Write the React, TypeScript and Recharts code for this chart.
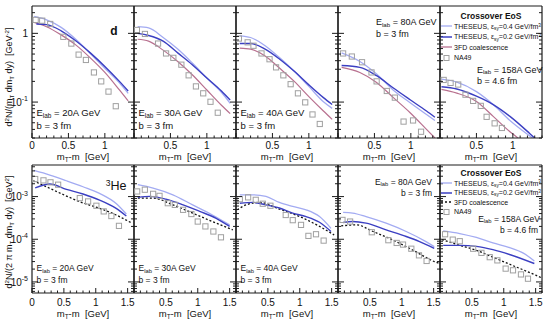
import React from 'react';
import { ComposedChart, Line, Scatter, XAxis, YAxis } from 'recharts';

type Pt = [number, number];

const ENERGIES = ['20A', '30A', '40A', '80A', '158A'];
const IMPACT = ['3', '3', '3', '3', '4.6'];

// deuterons (top row): [mT-m, d2N/(mT dmT dy)]
const d20Th04: Pt[] = [[0.03, 1.76], [0.2, 1.57], [0.4, 1.22], [0.6, 0.82], [0.8, 0.51], [1.0, 0.31], [1.2, 0.19], [1.32, 0.134]];
const d20Th02: Pt[] = [[0.06, 1.37], [0.2, 1.34], [0.4, 1.09], [0.6, 0.78], [0.8, 0.52], [1.0, 0.33], [1.2, 0.2], [1.32, 0.145]];
const d20Fd: Pt[] = [[0.03, 1.44], [0.2, 1.25], [0.4, 0.95], [0.6, 0.68], [0.8, 0.44], [1.0, 0.27], [1.2, 0.15], [1.32, 0.104]];
const d20Na49: Pt[] = [[0.05, 1.57], [0.14, 1.53], [0.25, 1.37], [0.43, 0.89], [0.54, 0.71], [0.64, 0.49], [0.74, 0.41], [0.85, 0.27], [0.95, 0.2], [1.05, 0.142], [1.15, 0.087]];

const d30Th04: Pt[] = [[0.05, 1.25], [0.2, 1.2], [0.4, 0.87], [0.6, 0.59], [0.8, 0.37], [1.0, 0.224], [1.2, 0.139], [1.32, 0.096]];
const d30Th02: Pt[] = [[0.05, 1.0], [0.2, 0.93], [0.4, 0.77], [0.6, 0.52], [0.8, 0.35], [1.0, 0.224], [1.2, 0.145], [1.32, 0.107]];
const d30Fd: Pt[] = [[0.05, 0.82], [0.2, 0.77], [0.4, 0.57], [0.6, 0.39], [0.8, 0.25], [1.0, 0.15], [1.2, 0.09], [1.32, 0.068]];
const d30Na49: Pt[] = [[0.04, 1.12], [0.15, 0.98], [0.33, 0.71], [0.44, 0.51], [0.54, 0.44], [0.65, 0.35], [0.75, 0.245], [0.85, 0.169], [0.95, 0.134], [1.05, 0.101], [1.15, 0.07]];

const d40Th04: Pt[] = [[0.05, 0.92], [0.2, 0.87], [0.4, 0.66], [0.6, 0.44], [0.8, 0.28], [1.0, 0.169], [1.2, 0.101], [1.32, 0.081]];
const d40Th02: Pt[] = [[0.05, 0.71], [0.2, 0.71], [0.4, 0.59], [0.6, 0.42], [0.8, 0.28], [1.0, 0.178], [1.2, 0.116], [1.32, 0.092]];
const d40Fd: Pt[] = [[0.05, 0.61], [0.2, 0.59], [0.4, 0.47], [0.6, 0.31], [0.8, 0.2], [1.0, 0.12], [1.2, 0.074], [1.32, 0.056]];
const d40Na49: Pt[] = [[0.04, 0.84], [0.16, 0.74], [0.24, 0.66], [0.35, 0.51], [0.46, 0.42], [0.55, 0.32], [0.65, 0.245], [0.75, 0.182], [0.85, 0.134], [0.95, 0.099], [1.05, 0.066], [1.15, 0.048]];

const d80Th04: Pt[] = [[0.05, 0.52], [0.3, 0.39], [0.53, 0.256], [0.76, 0.149], [0.99, 0.098], [1.215, 0.066], [1.33, 0.054]];
const d80Th02: Pt[] = [[0.05, 0.34], [0.3, 0.32], [0.53, 0.242], [0.76, 0.16], [0.99, 0.108], [1.215, 0.074], [1.33, 0.06]];
const d80Fd: Pt[] = [[0.05, 0.32], [0.3, 0.27], [0.53, 0.193], [0.76, 0.116], [0.99, 0.07], [1.215, 0.04], [1.33, 0.03]];
const d80Na49: Pt[] = [[0.07, 0.51], [0.19, 0.46], [0.33, 0.38], [0.46, 0.27], [0.53, 0.2], [0.67, 0.145], [0.78, 0.116], [0.9, 0.052], [1.03, 0.054], [1.14, 0.037]];

const d158Th04: Pt[] = [[0.02, 0.215], [0.23, 0.195], [0.5, 0.142], [0.73, 0.092], [0.96, 0.054], [1.27, 0.03]];
const d158Th02: Pt[] = [[0.02, 0.167], [0.23, 0.155], [0.5, 0.122], [0.73, 0.092], [0.96, 0.062], [1.23, 0.035], [1.33, 0.028]];
const d158Fd: Pt[] = [[0.02, 0.153], [0.23, 0.135], [0.5, 0.102], [0.73, 0.062], [0.96, 0.037], [1.1, 0.028], [1.2, 0.021]];
const d158Na49: Pt[] = [[0.05, 0.21], [0.145, 0.19], [0.25, 0.18], [0.35, 0.128], [0.455, 0.104], [0.56, 0.088], [0.64, 0.061], [0.75, 0.049], [0.85, 0.042]];

// 3He (bottom row): [mT-m, d2N/(2 pi mT dmT dy)]
const h20Th04: Pt[] = [[0.03, 4.1e-3], [0.28, 3.2e-3], [0.54, 2.35e-3], [0.8, 1.7e-3], [1.06, 1.19e-3], [1.32, 6.9e-4], [1.48, 3.9e-4]];
const h20Th02: Pt[] = [[0.05, 1.6e-3], [0.28, 1.97e-3], [0.54, 1.48e-3], [0.8, 1.15e-3], [1.06, 8.3e-4], [1.32, 5.3e-4], [1.48, 3.5e-4]];
const h20Fd: Pt[] = [[0.02, 2.35e-3], [0.28, 1.56e-3], [0.54, 1.03e-3], [0.8, 7.1e-4], [1.06, 5.3e-4], [1.32, 3.7e-4], [1.56, 2.42e-4]];
const h20Na49: Pt[] = [[0.05, 2.58e-3], [0.18, 2.4e-3], [0.29, 2.16e-3], [0.41, 1.9e-3], [0.75, 9.2e-4], [0.88, 7.7e-4], [1.01, 6.1e-4], [1.125, 4.5e-4], [1.245, 3.5e-4], [1.364, 2.06e-4]];

const h30Th04: Pt[] = [[0.06, 1.9e-3], [0.3, 1.58e-3], [0.61, 1.1e-3], [0.92, 6.4e-4], [1.23, 3.7e-4], [1.5, 2.17e-4]];
const h30Th02: Pt[] = [[0.06, 9.6e-4], [0.25, 1.01e-3], [0.5, 8.7e-4], [0.77, 6.4e-4], [1.03, 4.5e-4], [1.29, 3.1e-4], [1.5, 2.0e-4]];
const h30Fd: Pt[] = [[0.06, 9.2e-4], [0.3, 9.2e-4], [0.61, 6.4e-4], [0.92, 4.1e-4], [1.23, 2.6e-4], [1.55, 1.66e-4]];
const h30Na49: Pt[] = [[0.05, 1.32e-3], [0.17, 1.45e-3], [0.3, 1.16e-3], [0.4, 1.04e-3], [0.53, 7.0e-4], [0.64, 6.4e-4], [0.77, 4.9e-4], [0.9, 3.9e-4], [1.0, 2.6e-4], [1.12, 2.0e-4], [1.245, 1.52e-4], [1.364, 1.11e-4]];

const h40Th04: Pt[] = [[0.06, 1.1e-3], [0.27, 1.1e-3], [0.47, 1.01e-3], [0.68, 7.3e-4], [0.89, 5.9e-4], [1.1, 4.9e-4], [1.31, 3.4e-4], [1.49, 1.8e-4]];
const h40Th02: Pt[] = [[0.06, 7.0e-4], [0.27, 7.3e-4], [0.47, 6.4e-4], [0.68, 5.4e-4], [0.89, 4.1e-4], [1.1, 3.4e-4], [1.31, 2.5e-4], [1.49, 1.52e-4]];
const h40Fd: Pt[] = [[0.02, 4.9e-4], [0.16, 6.4e-4], [0.37, 7.3e-4], [0.68, 5.1e-4], [1.0, 3.4e-4], [1.31, 2.0e-4], [1.54, 1.26e-4]];
const h40Na49: Pt[] = [[0.06, 8.7e-4], [0.19, 9.6e-4], [0.31, 8.4e-4], [0.42, 6.8e-4], [0.54, 6.1e-4], [0.78, 3.7e-4], [0.89, 2.8e-4], [1.02, 2.17e-4], [1.136, 1.2e-4], [1.255, 1.31e-4], [1.375, 9.3e-5]];

const h80Th04: Pt[] = [[0.08, 4.25e-4], [0.23, 4.1e-4], [0.44, 3.4e-4], [0.755, 2.38e-4], [1.07, 1.52e-4], [1.38, 8.8e-5], [1.51, 6.7e-5]];
const h80Th02: Pt[] = [[0.08, 2.47e-4], [0.23, 2.6e-4], [0.44, 2.38e-4], [0.755, 1.66e-4], [1.07, 1.16e-4], [1.28, 8.8e-5], [1.51, 6.1e-5]];
const h80Fd: Pt[] = [[0.05, 2.06e-4], [0.29, 2.17e-4], [0.55, 1.52e-4], [0.86, 9.6e-5], [1.17, 5.6e-5], [1.51, 3.0e-5], [1.59, 2.7e-5]];
const h80Na49: Pt[] = [[0.07, 2.84e-4], [0.19, 2.6e-4], [0.53, 1.46e-4], [0.79, 9.5e-5], [0.92, 8.2e-5], [1.02, 7.5e-5], [1.15, 6.0e-5], [1.27, 4.2e-5], [1.39, 3.1e-5]];

const h158Th04: Pt[] = [[0.05, 1.57e-4], [0.31, 1.36e-4], [0.57, 1.1e-4], [0.83, 8.2e-5], [1.09, 6.4e-5], [1.3, 4.8e-5], [1.48, 3.1e-5]];
const h158Th02: Pt[] = [[0.05, 7.2e-5], [0.31, 7.2e-5], [0.57, 6.8e-5], [0.83, 5.7e-5], [1.09, 4.4e-5], [1.48, 2.7e-5]];
const h158Fd: Pt[] = [[0.03, 9.8e-5], [0.31, 7.2e-5], [0.57, 5.5e-5], [0.83, 3.8e-5], [1.09, 2.6e-5], [1.51, 1.42e-5], [1.59, 1.25e-5]];
const h158Na49: Pt[] = [[0.08, 1.31e-4], [0.2, 9.8e-5], [0.31, 9.0e-5], [0.52, 6.0e-5], [0.65, 4.8e-5], [0.78, 3.8e-5], [0.9, 3.2e-5], [1.03, 2.05e-5], [1.145, 1.87e-5], [1.27, 1.5e-5], [1.38, 1.19e-5]];

const D_SETS = [
  [d20Th04, d20Th02, d20Fd, d20Na49],
  [d30Th04, d30Th02, d30Fd, d30Na49],
  [d40Th04, d40Th02, d40Fd, d40Na49],
  [d80Th04, d80Th02, d80Fd, d80Na49],
  [d158Th04, d158Th02, d158Fd, d158Na49],
];
const HE_SETS = [
  [h20Th04, h20Th02, h20Fd, h20Na49],
  [h30Th04, h30Th02, h30Fd, h30Na49],
  [h40Th04, h40Th02, h40Fd, h40Na49],
  [h80Th04, h80Th02, h80Fd, h80Na49],
  [h158Th04, h158Th02, h158Fd, h158Na49],
];

const X_TICKS_D = [0, 0.1, 0.2, 0.3, 0.4, 0.5, 0.6, 0.7, 0.8, 0.9, 1, 1.1, 1.2, 1.3, 1.4];
const X_TICKS_HE = [0, 0.1, 0.2, 0.3, 0.4, 0.5, 0.6, 0.7, 0.8, 0.9, 1, 1.1, 1.2, 1.3, 1.4, 1.5, 1.6];
const Y_TICKS_D = [0.03, 0.04, 0.05, 0.06, 0.07, 0.08, 0.09, 0.1, 0.2, 0.3, 0.4, 0.5, 0.6, 0.7, 0.8, 0.9, 1, 2];
const Y_TICKS_HE = [
  6e-6, 7e-6, 8e-6, 9e-6, 1e-5, 2e-5, 3e-5, 4e-5, 5e-5, 6e-5, 7e-5, 8e-5, 9e-5,
  1e-4, 2e-4, 3e-4, 4e-4, 5e-4, 6e-4, 7e-4, 8e-4, 9e-4, 1e-3, 2e-3, 3e-3, 4e-3, 5e-3,
];

const C_TH04 = '#a3abf2';
const C_TH02 = '#3b3fc2';
const C_FD = '#b8708f';
const C_NA49 = '#a0a0a0';
const FRAME = '#1c1c1c';
const FONT = '"Liberation Sans", Arial, Helvetica, sans-serif';

const PANEL_W = 102;
const LEFT0 = 32;

const ROWS = {
  d: { top: 6, height: 132, xMax: 1.4, yDom: [0.03, 2.5], xTicks: X_TICKS_D, yTicks: Y_TICKS_D, labelDy: 11.1, titleY: 156.5 },
  he: { top: 165, height: 128, xMax: 1.6, yDom: [5.5e-6, 5.5e-3], xTicks: X_TICKS_HE, yTicks: Y_TICKS_HE, labelDy: 13.1, titleY: 314 },
};

const near = (a: number, b: number) => Math.abs(a - b) < 1e-6;
const isMajorX = (v: number) => near(v * 2, Math.round(v * 2));
const isMajorY = (v: number) => near(Math.log10(v), Math.round(Math.log10(v)));

const bottomTick = (labels: number[], dy: number) => (p: any) => {
  const v = p.payload.value;
  const major = isMajorX(v);
  const show = major && labels.some((l) => near(l, v));
  return (
    <g>
      <line x1={p.x} x2={p.x} y1={p.y} y2={p.y - (major ? 5 : 2.5)} stroke={FRAME} strokeWidth={1} />
      {show && (
        <text x={p.x} y={p.y + dy} textAnchor="middle" fontSize={10} fontFamily={FONT} fill="#111">
          {String(v)}
        </text>
      )}
    </g>
  );
};

const topTick = (p: any) => {
  const major = isMajorX(p.payload.value);
  return <line x1={p.x} x2={p.x} y1={p.y} y2={p.y + (major ? 5 : 2.5)} stroke={FRAME} strokeWidth={1} />;
};

const leftTick = (withLabels: boolean) => (p: any) => {
  const v = p.payload.value;
  const major = isMajorY(v);
  const e = Math.round(Math.log10(v));
  return (
    <g>
      <line x1={p.x} x2={p.x + (major ? 6 : 3)} y1={p.y} y2={p.y} stroke={FRAME} strokeWidth={1} />
      {withLabels && major && (
        <text x={p.x - 4} y={p.y + 3.6} textAnchor="end" fontSize={10} fontFamily={FONT} fill="#111">
          {e === 0 ? '1' : '10'}
          {e !== 0 && (
            <tspan dy={-4.5} fontSize={7}>
              {String(e)}
            </tspan>
          )}
        </text>
      )}
    </g>
  );
};

const rightTick = (p: any) => {
  const major = isMajorY(p.payload.value);
  return <line x1={p.x} x2={p.x - (major ? 6 : 3)} y1={p.y} y2={p.y} stroke={FRAME} strokeWidth={1} />;
};

const Square = (p: any) => (
  <rect x={p.cx - 2.6} y={p.cy - 2.6} width={5.2} height={5.2} fill="none" stroke={C_NA49} strokeWidth={1} />
);

const toRows = (pts: Pt[]) => pts.map(([x, y]) => ({ x, y }));

function Panel({ row, col }: { row: 'd' | 'he'; col: number }) {
  const cfg = ROWS[row];
  const [th04, th02, fd, na] = (row === 'd' ? D_SETS : HE_SETS)[col];
  const left = LEFT0 + col * PANEL_W;
  const ml = 40;
  const mr = 8;
  const mt = 6;
  const mb = 30;
  const w = PANEL_W + ml + mr + 2;
  const h = cfg.height + mt + mb + 2;
  const labels = row === 'd' ? (col === 0 ? [0, 0.5, 1] : [0.5, 1]) : col === 0 ? [0, 0.5, 1, 1.5] : [0.5, 1, 1.5];
  const axisLine = { stroke: FRAME, strokeWidth: 1.2 };
  return (
    <div style={{ position: 'absolute', left: left - ml - 1, top: cfg.top - mt - 1 }}>
      <ComposedChart width={w} height={h} margin={{ top: mt, right: mr, bottom: mb, left: ml }}>
        <XAxis
          xAxisId="b"
          dataKey="x"
          type="number"
          domain={[0, cfg.xMax]}
          allowDataOverflow
          ticks={cfg.xTicks}
          interval={0}
          height={1}
          tickSize={0}
          tickMargin={0}
          tickLine={false}
          axisLine={axisLine}
          tick={bottomTick(labels, cfg.labelDy)}
        />
        <XAxis
          xAxisId="t"
          orientation="top"
          type="number"
          domain={[0, cfg.xMax]}
          allowDataOverflow
          ticks={cfg.xTicks}
          interval={0}
          height={1}
          tickSize={0}
          tickMargin={0}
          tickLine={false}
          axisLine={axisLine}
          tick={topTick}
        />
        <YAxis
          yAxisId="l"
          dataKey="y"
          type="number"
          scale="log"
          domain={cfg.yDom}
          allowDataOverflow
          ticks={cfg.yTicks}
          interval={0}
          width={1}
          tickSize={0}
          tickMargin={0}
          tickLine={false}
          axisLine={axisLine}
          tick={leftTick(col === 0)}
        />
        <YAxis
          yAxisId="r"
          orientation="right"
          type="number"
          scale="log"
          domain={cfg.yDom}
          allowDataOverflow
          ticks={cfg.yTicks}
          interval={0}
          width={1}
          tickSize={0}
          tickMargin={0}
          tickLine={false}
          axisLine={axisLine}
          tick={rightTick}
        />
        <Line
          xAxisId="b"
          yAxisId="l"
          data={toRows(fd)}
          dataKey="y"
          type="monotone"
          stroke={row === 'd' ? C_FD : '#111'}
          strokeWidth={row === 'd' ? 1.2 : 1.3}
          strokeDasharray={row === 'd' ? undefined : '2 2'}
          dot={false}
          isAnimationActive={false}
        />
        <Line xAxisId="b" yAxisId="l" data={toRows(th04)} dataKey="y" type="monotone" stroke={C_TH04} strokeWidth={1.3} dot={false} isAnimationActive={false} />
        <Line xAxisId="b" yAxisId="l" data={toRows(th02)} dataKey="y" type="monotone" stroke={C_TH02} strokeWidth={1.4} dot={false} isAnimationActive={false} />
        <Scatter xAxisId="b" yAxisId="l" data={toRows(na)} dataKey="y" shape={Square} isAnimationActive={false} />
      </ComposedChart>
    </div>
  );
}

const Txt = ({ x, y, size = 9.5, anchor = 'start', bold = false, children }: any) => {
  const tx = anchor === 'start' ? '0' : anchor === 'end' ? '-100%' : '-50%';
  return (
    <div
      style={{
        position: 'absolute',
        left: x,
        top: y - 0.5 * size,
        fontSize: size,
        lineHeight: `${size}px`,
        whiteSpace: 'nowrap',
        transform: `translateX(${tx})`,
        fontWeight: bold ? 700 : 400,
      }}
    >
      {children}
    </div>
  );
};

const Sub = ({ children }: any) => (
  <span style={{ fontSize: '0.68em', position: 'relative', top: '0.3em' }}>{children}</span>
);
const Sup = ({ children }: any) => (
  <span style={{ fontSize: '0.68em', position: 'relative', top: '-0.45em' }}>{children}</span>
);

const ELab = ({ e }: { e: string }) => (
  <>
    E<Sub>lab</Sub> = {e} GeV
  </>
);

function Legend({ row }: { row: 'd' | 'he' }) {
  const y0 = row === 'd' ? 16 : 173.5;
  const step = row === 'd' ? 10.4 : 9.5;
  const entries = [
    { kind: 'line', color: C_TH04, dash: undefined, w: 1.3, text: <>THESEUS, ε<Sub>sy</Sub>=0.4 GeV/fm<Sup>3</Sup></> },
    { kind: 'line', color: C_TH02, dash: undefined, w: 1.5, text: <>THESEUS, ε<Sub>sy</Sub>=0.2 GeV/fm<Sup>3</Sup></> },
    { kind: 'line', color: row === 'd' ? C_FD : '#111', dash: row === 'd' ? undefined : '2 2', w: 1.3, text: <>3FD coalescence</> },
    { kind: 'box', color: C_NA49, dash: undefined, w: 1, text: <>NA49</> },
  ];
  return (
    <>
      <Txt x={491} y={y0} size={8.5} anchor="middle" bold>
        Crossover EoS
      </Txt>
      {entries.map((en, i) => {
        const y = y0 + step * (i + 1);
        return (
          <React.Fragment key={i}>
            <svg style={{ position: 'absolute', left: 441, top: y - 4 }} width={12} height={8}>
              {en.kind === 'line' ? (
                <line x1={0} x2={11} y1={4} y2={4} stroke={en.color} strokeWidth={en.w} strokeDasharray={en.dash} />
              ) : (
                <rect x={3} y={1.5} width={5} height={5} fill="none" stroke={en.color} strokeWidth={1} />
              )}
            </svg>
            <Txt x={454} y={y} size={7}>
              {en.text}
            </Txt>
          </React.Fragment>
        );
      })}
    </>
  );
}

export default function App() {
  const cols = [0, 1, 2, 3, 4];
  return (
    <div
      style={{
        position: 'absolute',
        left: 0,
        top: 0,
        width: 550,
        height: 322,
        background: '#fff',
        overflow: 'hidden',
        fontFamily: FONT,
        color: '#111',
      }}
    >
      {cols.map((c) => (
        <Panel key={'d' + c} row="d" col={c} />
      ))}
      {cols.map((c) => (
        <Panel key={'h' + c} row="he" col={c} />
      ))}

      {/* axis titles */}
      <div style={{ position: 'absolute', left: 9, top: 77, transform: 'translate(-50%,-50%) rotate(-90deg)', whiteSpace: 'nowrap', fontSize: 9, lineHeight: '10px' }}>
        d<Sup>2</Sup>N/(m<Sub>T</Sub> dm<Sub>T</Sub> dy)&nbsp;&nbsp;[GeV<Sup>-2</Sup>]
      </div>
      <div style={{ position: 'absolute', left: 9, top: 232, transform: 'translate(-50%,-50%) rotate(-90deg)', whiteSpace: 'nowrap', fontSize: 9, lineHeight: '10px' }}>
        d<Sup>2</Sup>N/(2 π m<Sub>T</Sub> dm<Sub>T</Sub> dy)&nbsp;&nbsp;[GeV<Sup>2</Sup>]
      </div>
      {cols.map((c) => (
        <React.Fragment key={'xt' + c}>
          <Txt x={LEFT0 + c * PANEL_W + PANEL_W / 2} y={ROWS.d.titleY} size={9.5} anchor="middle">
            m<Sub>T</Sub>-m&nbsp;&nbsp;[GeV]
          </Txt>
          <Txt x={LEFT0 + c * PANEL_W + PANEL_W / 2} y={ROWS.he.titleY} size={9.5} anchor="middle">
            m<Sub>T</Sub>-m&nbsp;&nbsp;[GeV]
          </Txt>
        </React.Fragment>
      ))}

      {/* energy / impact labels */}
      {[0, 1, 2].map((c) => (
        <React.Fragment key={'e' + c}>
          <Txt x={LEFT0 + c * PANEL_W + 4.5} y={113}>
            <ELab e={ENERGIES[c]} />
          </Txt>
          <Txt x={LEFT0 + c * PANEL_W + 4.5} y={126}>
            b = {IMPACT[c]} fm
          </Txt>
          <Txt x={LEFT0 + c * PANEL_W + 4.5} y={268.5} size={8.5}>
            <ELab e={ENERGIES[c]} />
          </Txt>
          <Txt x={LEFT0 + c * PANEL_W + 4.5} y={280} size={8.5}>
            b = {IMPACT[c]} fm
          </Txt>
        </React.Fragment>
      ))}
      <Txt x={376} y={22.5} size={9}>
        <ELab e={ENERGIES[3]} />
      </Txt>
      <Txt x={376} y={34} size={9}>
        b = {IMPACT[3]} fm
      </Txt>
      <Txt x={432} y={182} size={8.5} anchor="end">
        <ELab e={ENERGIES[3]} />
      </Txt>
      <Txt x={432} y={193.5} size={8.5} anchor="end">
        b = {IMPACT[3]} fm
      </Txt>
      <Txt x={477} y={70} size={9}>
        <ELab e={ENERGIES[4]} />
      </Txt>
      <Txt x={477} y={81.5} size={9}>
        b = {IMPACT[4]} fm
      </Txt>
      <Txt x={540} y={219} size={8.5} anchor="end">
        <ELab e={ENERGIES[4]} />
      </Txt>
      <Txt x={538} y={230.5} size={8.5} anchor="end">
        b = {IMPACT[4]} fm
      </Txt>

      <Txt x={114} y={30.5} size={12} anchor="middle" bold>
        d
      </Txt>
      <Txt x={116} y={186} size={12.5} anchor="middle">
        <Sup>3</Sup>He
      </Txt>

      <Legend row="d" />
      <Legend row="he" />
    </div>
  );
}
